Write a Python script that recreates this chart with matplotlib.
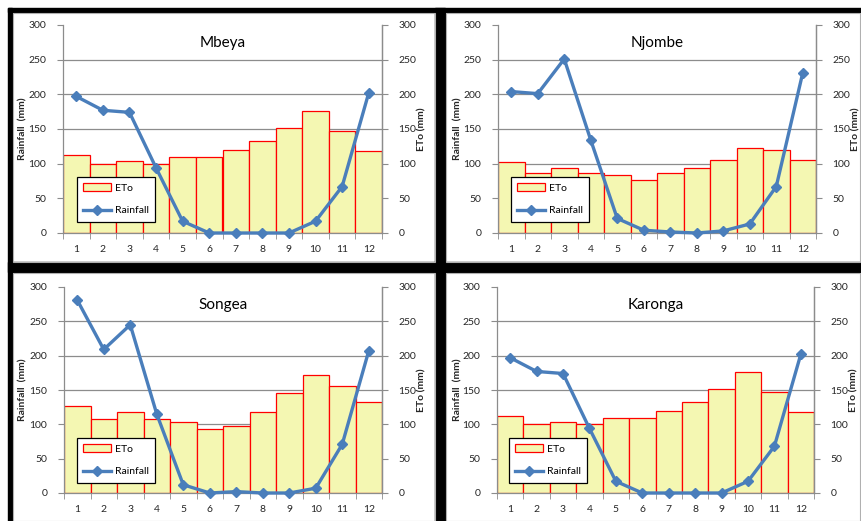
import matplotlib
matplotlib.use("Agg")
import matplotlib.pyplot as plt
from matplotlib.patches import Rectangle, Patch
from matplotlib.lines import Line2D
import numpy as np

plt.rcParams['font.family'] = ['Lato', 'DejaVu Sans']

months = list(range(1, 13))
month_labels = [str(m) for m in months]

stations = ["Mbeya", "Njombe", "Songea", "Karonga"]

eto_mbeya = [112, 100, 104, 100, 109, 109, 119, 133, 151, 176, 147, 118]
rain_mbeya = [197, 177, 174, 94, 17, 0, 0, 0, 0, 17, 67, 202]

eto_njombe = [103, 87, 94, 87, 83, 76, 87, 94, 106, 122, 119, 105]
rain_njombe = [204, 201, 251, 134, 21, 4, 1.5, 0, 3, 13, 67, 231]

eto_songea = [126, 108, 118, 108, 103, 93, 98, 118, 145, 172, 156, 132]
rain_songea = [281, 209, 245, 115, 12, 0, 2, 0, 0, 7, 71, 207]

eto_karonga = [112, 100, 104, 100, 109, 109, 119, 133, 151, 176, 147, 118]
rain_karonga = [197, 177, 174, 94, 17, 0, 0, 0, 0, 17, 68, 202]

eto_all = [eto_mbeya, eto_njombe, eto_songea, eto_karonga]
rain_all = [rain_mbeya, rain_njombe, rain_songea, rain_karonga]

yticks = [0, 50, 100, 150, 200, 250, 300]

W, H = 861, 521
fig = plt.figure(figsize=(W / 100, H / 100), dpi=100)
fig.patch.set_facecolor('white')

def px_rect(x0, y0, x1, y1, **kw):
    fig.patches.append(Rectangle((x0 / W, 1 - y1 / H), (x1 - x0) / W, (y1 - y0) / H,
                                 transform=fig.transFigure, figure=fig, **kw))

# black frame bands
px_rect(8, 8, 861, 12, color='black', zorder=0)
px_rect(8, 8, 12, 521, color='black', zorder=0)
px_rect(435, 8, 445, 521, color='black', zorder=0)
px_rect(8, 262, 861, 272, color='black', zorder=0)
# thin grey panel borders
for (a, b, c, d) in [(12.5, 12.5, 434.5, 261.5), (445.5, 12.5, 860, 261.5),
                     (12.5, 272.5, 434.5, 521), (445.5, 272.5, 860, 521)]:
    px_rect(a, b, c, d, fill=False, edgecolor='#b0b0b0', linewidth=0.8, zorder=0)

# axes boxes in pixels: (left, top, right, bottom)
boxes = [(63, 25, 382, 233), (498, 25, 816, 233), (64, 287, 382, 493), (497, 287, 814, 493)]
legend_pos = [(77, 177), (511, 177), (77, 438), (509, 438)]
left_label_x = [23, 458, 23, 458]
right_label_x = [422, 856, 422, 854]

bar_fill = '#F4F7B2'
line_col = '#4A7EBB'
axis_col = '#8c8c8c'
text_col = '#262626'

for i, (name, eto, rain) in enumerate(zip(stations, eto_all, rain_all)):
    l, t, r, b = boxes[i]
    wpx = r - l
    ax = fig.add_axes([l / W, 1 - b / H, (r - l) / W, (b - t) / H])
    ax.set_facecolor('white')
    ax.set_axisbelow(True)
    ax.set_xlim(0.5, 12.5)
    ax.set_ylim(0, 300)
    for y in [50, 100, 150, 200, 250]:
        ax.axhline(y, color='#8c8c8c', linewidth=0.9, zorder=0)
    ax.bar(months, eto, width=1.0, color=bar_fill, edgecolor='#FF0000', linewidth=0.9, zorder=2)
    ax.plot(months, rain, color=line_col, linewidth=2.4, marker='D', markersize=5,
            markerfacecolor=line_col, markeredgecolor=line_col, zorder=4, clip_on=False)

    ax.set_xticks(months)
    ax.set_xticklabels(month_labels)
    ax.set_xticks(np.arange(0.5, 13, 1.0), minor=True)
    ax.tick_params(axis='x', which='major', length=0, pad=9, labelsize=7.5, colors=text_col)
    ax.tick_params(axis='x', which='minor', length=4, direction='out', color=axis_col)
    ax.set_yticks(yticks)
    ax.tick_params(axis='y', length=4, direction='out', color=axis_col, labelsize=7.5,
                   labelcolor=text_col, pad=8)
    ax.spines['top'].set_visible(False)
    for s in ['left', 'right', 'bottom']:
        ax.spines[s].set_color(axis_col)
        ax.spines[s].set_linewidth(0.9)
    ax.set_ylabel('Rainfall  (mm)', fontsize=7.5, fontweight='bold', color=text_col)
    ax.yaxis.set_label_coords((left_label_x[i] - l) / wpx, 0.5)
    ax.yaxis.label.set_va('center')

    ax2 = ax.twinx()
    ax2.set_ylim(0, 300)
    ax2.set_yticks(yticks)
    ax2.tick_params(axis='y', length=4, direction='out', color=axis_col, labelsize=7.5,
                    labelcolor=text_col, pad=8)
    for s in ['top', 'left', 'bottom']:
        ax2.spines[s].set_visible(False)
    ax2.spines['right'].set_color(axis_col)
    ax2.spines['right'].set_linewidth(0.9)
    ax2.set_ylabel('ETo (mm)', fontsize=7.5, fontweight='bold', color=text_col)
    ax2.yaxis.set_label_coords((right_label_x[i] - l) / wpx, 0.5)
    ax2.yaxis.label.set_va('center')

    ax.text(0.5, 1 - 18 / (b - t), name, transform=ax.transAxes, ha='center', va='center',
            fontsize=11, color='black')

    handles = [Patch(facecolor=bar_fill, edgecolor='#FF0000', linewidth=0.9),
               Line2D([0], [0], color=line_col, linewidth=2.4, marker='D', markersize=5)]
    lx, ly = legend_pos[i]
    leg = ax2.legend(handles, ['ETo', 'Rainfall'], loc='upper left',
                     bbox_to_anchor=(lx / W, 1 - ly / H), bbox_transform=fig.transFigure,
                     fancybox=False, framealpha=1, edgecolor='black', fontsize=7.5,
                     borderpad=0.6, labelspacing=1.3, handlelength=2.7, handletextpad=0.3,
                     borderaxespad=0)
    leg.get_frame().set_linewidth(0.9)
    leg.set_zorder(10)

fig.savefig('out.png', dpi=100)
